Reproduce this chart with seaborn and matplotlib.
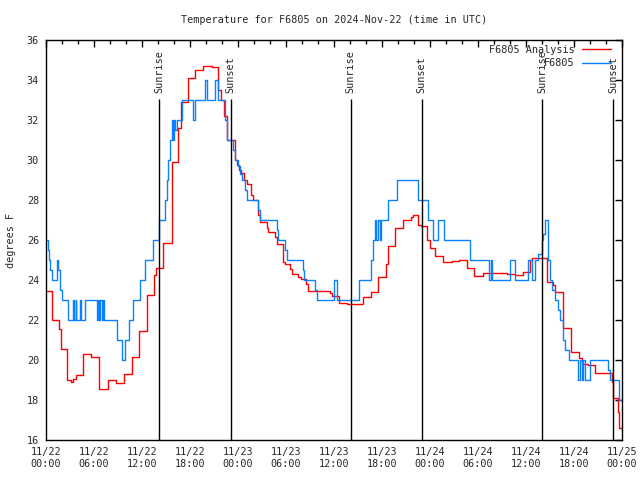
import numpy as np
import pandas as pd
import matplotlib
matplotlib.use("Agg")
import matplotlib.pyplot as plt
import seaborn as sns

# hours since 2024-11-22 00:00 UTC, step values (degrees F)
analysis_hours = [0.0, 0.71, 1.66, 1.91, 2.66, 3.12, 3.38, 3.75, 4.66, 5.62, 6.66, 7.71,
                  8.75, 9.75, 10.71, 11.66, 12.59, 13.5, 13.75, 14.62, 15.71, 16.54, 16.84,
                  17.79, 18.62, 19.62, 20.71, 21.54, 21.88, 22.25, 22.62, 23.62, 23.84, 24.12,
                  24.38, 24.71, 25.09, 25.62, 25.84, 26.54, 26.75, 27.59, 27.79, 28.62, 28.84,
                  29.66, 29.88, 30.5, 30.71, 31.54, 31.84, 32.5, 32.79, 35.5, 35.71, 36.66,
                  37.59, 39.66, 40.62, 41.54, 42.46, 42.71, 43.62, 44.66, 45.62, 45.91, 46.54,
                  46.88, 47.66, 48.0, 48.62, 49.59, 50.71, 51.66, 52.59, 53.5, 54.59, 57.59,
                  58.62, 59.66, 60.5, 60.71, 62.59, 63.34, 63.62, 64.66, 65.59, 66.66, 66.96,
                  67.79, 68.62, 70.71, 70.84, 71.54, 71.66, 71.96]
analysis_temps = [23.45, 22.0, 21.55, 20.55, 19.0, 18.9, 19.05, 19.25, 20.3, 20.15, 18.55, 19.0,
                  18.85, 19.3, 20.15, 21.45, 23.25, 24.25, 24.6, 25.85, 29.9, 31.6, 32.9,
                  34.1, 34.5, 34.7, 34.65, 33.5, 33.0, 32.2, 31.0, 30.0, 29.75, 29.5,
                  29.35, 29.0, 28.8, 28.25, 28.0, 27.25, 26.9, 26.6, 26.4, 26.15, 25.8,
                  24.9, 24.8, 24.55, 24.3, 24.15, 24.05, 23.8, 23.45, 23.35, 23.2, 22.85,
                  22.8, 23.13, 23.4, 24.15, 24.8, 25.7, 26.6, 27.0, 27.15, 27.25, 26.75,
                  26.7, 26.0, 25.6, 25.2, 24.9, 24.95, 25.0, 24.6, 24.2, 24.35, 24.3,
                  24.25, 24.4, 25.0, 25.1, 23.9, 23.75, 23.4, 21.6, 20.4, 20.1, 19.8,
                  19.75, 19.35, 18.9, 18.1, 17.4, 16.6, 16.6]

obs_hours = [0.0, 0.19, 0.38, 0.56, 0.71, 1.34, 1.54, 1.75, 1.96, 2.79, 3.41, 3.54, 3.69,
             3.81, 4.25, 4.38, 4.88, 6.34, 6.46, 6.62, 6.79, 6.94, 7.12, 7.29, 8.84, 9.46,
             9.88, 10.41, 10.91, 11.75, 12.38, 13.41, 14.16, 14.88, 15.09, 15.29, 15.5,
             15.71, 15.84, 16.0, 16.16, 16.34, 16.96, 18.41, 18.62, 19.88, 20.09, 21.12,
             21.54, 22.38, 22.62, 23.41, 23.62, 24.04, 24.25, 24.46, 24.88, 25.09, 26.54,
             26.75, 28.84, 29.04, 29.88, 30.09, 32.09, 32.25, 33.62, 33.84, 36.04, 36.41,
             39.12, 40.62, 40.91, 41.12, 41.31, 41.5, 41.69, 41.85, 42.04, 42.79, 43.84,
             46.54, 47.71, 48.41, 49.0, 49.71, 53.04, 55.41, 55.62, 55.71, 58.0, 58.62,
             60.29, 60.71, 61.12, 61.54, 61.96, 62.16, 62.38, 62.79, 63.0, 63.21, 63.62,
             64.04, 64.25, 64.66, 64.88, 65.41, 66.54, 66.75, 66.96, 67.16, 67.38, 68.0,
             70.29, 70.5, 71.66, 72.0]
obs_temps = [26.0, 25.5, 25.0, 24.5, 24.0, 25.0, 24.5, 23.5, 23.0, 22.0, 23.0, 22.0, 23.0,
             22.0, 23.0, 22.0, 23.0, 22.0, 23.0, 22.0, 23.0, 22.0, 23.0, 22.0, 21.0, 20.0,
             21.0, 22.0, 23.0, 24.0, 25.0, 26.0, 27.0, 28.0, 29.0, 30.0, 31.0,
             32.0, 31.0, 32.0, 31.5, 32.0, 33.0, 32.0, 33.0, 34.0, 33.0, 34.0,
             33.0, 32.0, 31.0, 30.5, 30.0, 29.7, 29.3, 29.0, 28.5, 28.0, 27.5,
             27.0, 26.5, 26.0, 25.5, 25.0, 24.5, 24.0, 23.5, 23.0, 24.0, 23.0,
             24.0, 25.0, 26.0, 27.0, 26.0, 27.0, 26.0, 27.0, 27.0, 28.0, 29.0,
             28.0, 27.0, 26.0, 27.0, 26.0, 25.0, 24.0, 25.0, 24.0, 25.0, 24.0,
             25.0, 24.0, 25.0, 25.3, 26.0, 26.3, 27.0, 25.0, 24.0, 23.5, 23.0,
             22.5, 22.0, 21.0, 20.5, 20.0, 19.0, 20.0, 19.0, 20.0, 19.0, 20.0,
             19.5, 19.0, 18.0, 18.0]

sun_hours = [14.15, 23.08, 38.08, 46.96, 62.05, 70.93]
sun_labels = ["Sunrise", "Sunset", "Sunrise", "Sunset", "Sunrise", "Sunset"]

tick_hours = list(range(0, 73, 6))
tick_labels = ["11/22\n00:00", "11/22\n06:00", "11/22\n12:00", "11/22\n18:00",
               "11/23\n00:00", "11/23\n06:00", "11/23\n12:00", "11/23\n18:00",
               "11/24\n00:00", "11/24\n06:00", "11/24\n12:00", "11/24\n18:00",
               "11/25\n00:00"]

sns.set_theme(style="white")
plt.rcParams["font.family"] = ["DejaVu Sans Mono"]
plt.rcParams["font.size"] = 7.3

df = pd.concat([
    pd.DataFrame({"hour": analysis_hours, "temp": analysis_temps, "series": "F6805 Analysis"}),
    pd.DataFrame({"hour": obs_hours, "temp": obs_temps, "series": "F6805"}),
])

fig = plt.figure(figsize=(6.4, 4.8), dpi=100)
ax = fig.add_axes([46 / 640, 40 / 480, 576 / 640, 400 / 480])

sns.lineplot(data=df, x="hour", y="temp", hue="series",
             palette={"F6805 Analysis": "#ff0000", "F6805": "#0a80ff"},
             estimator=None, sort=False, drawstyle="steps-post", linewidth=1.0, ax=ax)

# sunrise / sunset markers
for h, lab in zip(sun_hours, sun_labels):
    ax.vlines(h, 16, 33.05, color="black", linewidth=1.0)
    ax.text(h, 33.35, lab, rotation=90, ha="center", va="bottom", fontsize=7.3)

ax.set_xlim(0, 72)
ax.set_ylim(16, 36)
ax.set_xticks(tick_hours)
ax.set_xticklabels(tick_labels)
ax.set_xticks(np.arange(0, 73, 2), minor=True)
ax.set_yticks(np.arange(16, 37, 2))
ax.tick_params(which="both", direction="in", top=True, right=True, color="black",
               labelsize=7.3)
ax.tick_params(which="major", length=5, width=1, pad=5)
ax.tick_params(which="minor", length=3, width=1)
for s in ax.spines.values():
    s.set_color("black")
    s.set_linewidth(1)

ax.set_xlabel("")
ax.set_ylabel("degrees F", fontsize=7.3, labelpad=8)
ax.set_title("Temperature for F6805 on 2024-Nov-22 (time in UTC)", fontsize=7.3, pad=12)

leg = ax.legend(loc="upper right", bbox_to_anchor=(0.994, 1.006), frameon=False,
                markerfirst=False, handlelength=2.9, handletextpad=0.7,
                labelspacing=0.35, borderpad=0.2, fontsize=7.3)

fig.savefig("out.png", dpi=100)
